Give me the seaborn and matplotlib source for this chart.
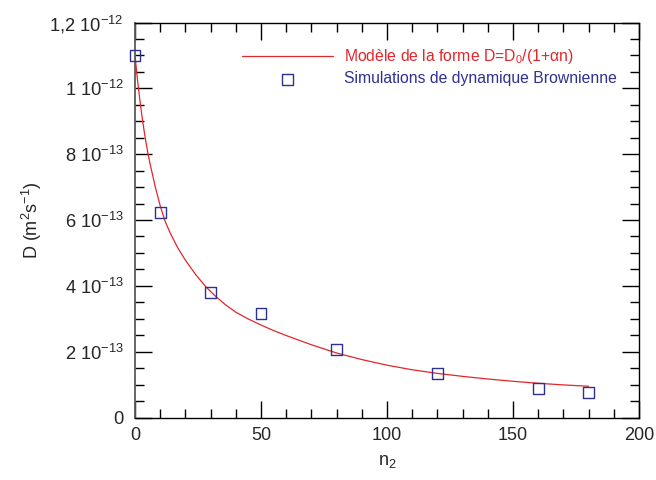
import matplotlib
matplotlib.use("Agg")
import matplotlib.pyplot as plt
import seaborn as sns
from matplotlib.ticker import MultipleLocator, FixedLocator, FixedFormatter

# ── Data ─────────────────────────────────────────────
# model curve D = D0/(1+alpha n)
n_model = [0, 1, 2, 3, 4, 5, 6, 8, 10, 12, 14, 17, 20, 24, 28, 32, 36, 40,
           45, 50, 55, 60, 70, 80, 90, 100, 110, 120, 130, 140, 150, 160,
           170, 180]
d_model = [11.0e-13, 10.25e-13, 9.6e-13, 9.02e-13, 8.52e-13, 8.08e-13, 7.7e-13,
           7.02e-13, 6.43e-13, 5.95e-13, 5.6e-13, 5.15e-13, 4.78e-13, 4.35e-13,
           3.98e-13, 3.68e-13, 3.42e-13, 3.2e-13, 2.99e-13, 2.81e-13, 2.64e-13,
           2.49e-13, 2.21e-13, 1.96e-13, 1.76e-13, 1.59e-13, 1.45e-13, 1.34e-13,
           1.25e-13, 1.17e-13, 1.1e-13, 1.04e-13, 0.99e-13, 0.95e-13]

# Brownian dynamics simulations
n_sim = [0, 10, 30, 50, 80, 120, 160, 180]
d_sim = [11.0e-13, 6.24e-13, 3.80e-13, 3.15e-13, 2.07e-13, 1.34e-13, 0.89e-13, 0.77e-13]

x_ticks = [0, 50, 100, 150, 200]
y_ticks = [0, 2e-13, 4e-13, 6e-13, 8e-13, 1e-12, 1.2e-12]
y_labels = ["0", "2 10$^{-13}$", "4 10$^{-13}$", "6 10$^{-13}$",
            "8 10$^{-13}$", "1 10$^{-12}$", "1,2 10$^{-12}$"]

RED = "#e3262b"
BLUE = "#2e3192"

# ── Style ────────────────────────────────────────────
sns.set_style("ticks")
plt.rcParams["font.family"] = ["Liberation Sans", "DejaVu Sans"]
plt.rcParams["mathtext.fontset"] = "custom"
plt.rcParams["mathtext.rm"] = "Liberation Sans"
plt.rcParams["mathtext.it"] = "Liberation Sans:italic"
plt.rcParams["mathtext.default"] = "rm"

fig = plt.figure(figsize=(6.56, 4.8), dpi=100)
ax = fig.add_axes([0.2058, 0.1302, 0.7683, 0.8229])

sns.lineplot(x=n_model, y=d_model, color=RED, lw=0.9, ax=ax,
             label="Modèle de la forme D=D$_0$/(1+αn)")
sns.scatterplot(x=n_sim, y=d_sim, marker="s", s=62, facecolors="none",
                edgecolor=BLUE, linewidth=1.0, ax=ax, zorder=3, clip_on=False,
                label="Simulations de dynamique Brownienne")

ax.set_xlim(0, 200)
ax.set_ylim(0, 1.2e-12)
ax.xaxis.set_major_locator(FixedLocator(x_ticks))
ax.xaxis.set_minor_locator(MultipleLocator(10))
ax.yaxis.set_major_locator(FixedLocator(y_ticks))
ax.yaxis.set_major_formatter(FixedFormatter(y_labels))
ax.yaxis.set_minor_locator(MultipleLocator(0.5e-13))

ax.tick_params(which="both", direction="in", top=True, right=True,
               width=1, color="black")
ax.tick_params(which="major", length=12)
ax.tick_params(axis="y", which="major", pad=8, labelsize=13.2)
ax.tick_params(axis="x", which="major", pad=7, labelsize=13)
ax.tick_params(which="minor", length=6.5)

for s in ax.spines.values():
    s.set_linewidth(1.0)
    s.set_color("black")
ax.spines["left"].set_color("#5a5a5a")
ax.spines["left"].set_linewidth(1.3)

ax.set_xlabel("n$_2$", fontsize=13, labelpad=6)
ax.set_ylabel("D (m$^2$s$^{-1}$)", fontsize=13, labelpad=4)

leg = ax.legend(loc="upper left", bbox_to_anchor=(0.212, 0.938), frameon=False,
                fontsize=11.3, handlelength=5.8, handletextpad=0.7,
                labelspacing=0.35, borderpad=0, borderaxespad=0)
for txt, col in zip(leg.get_texts(), [RED, BLUE]):
    txt.set_color(col)

fig.savefig("out.png", dpi=100)
